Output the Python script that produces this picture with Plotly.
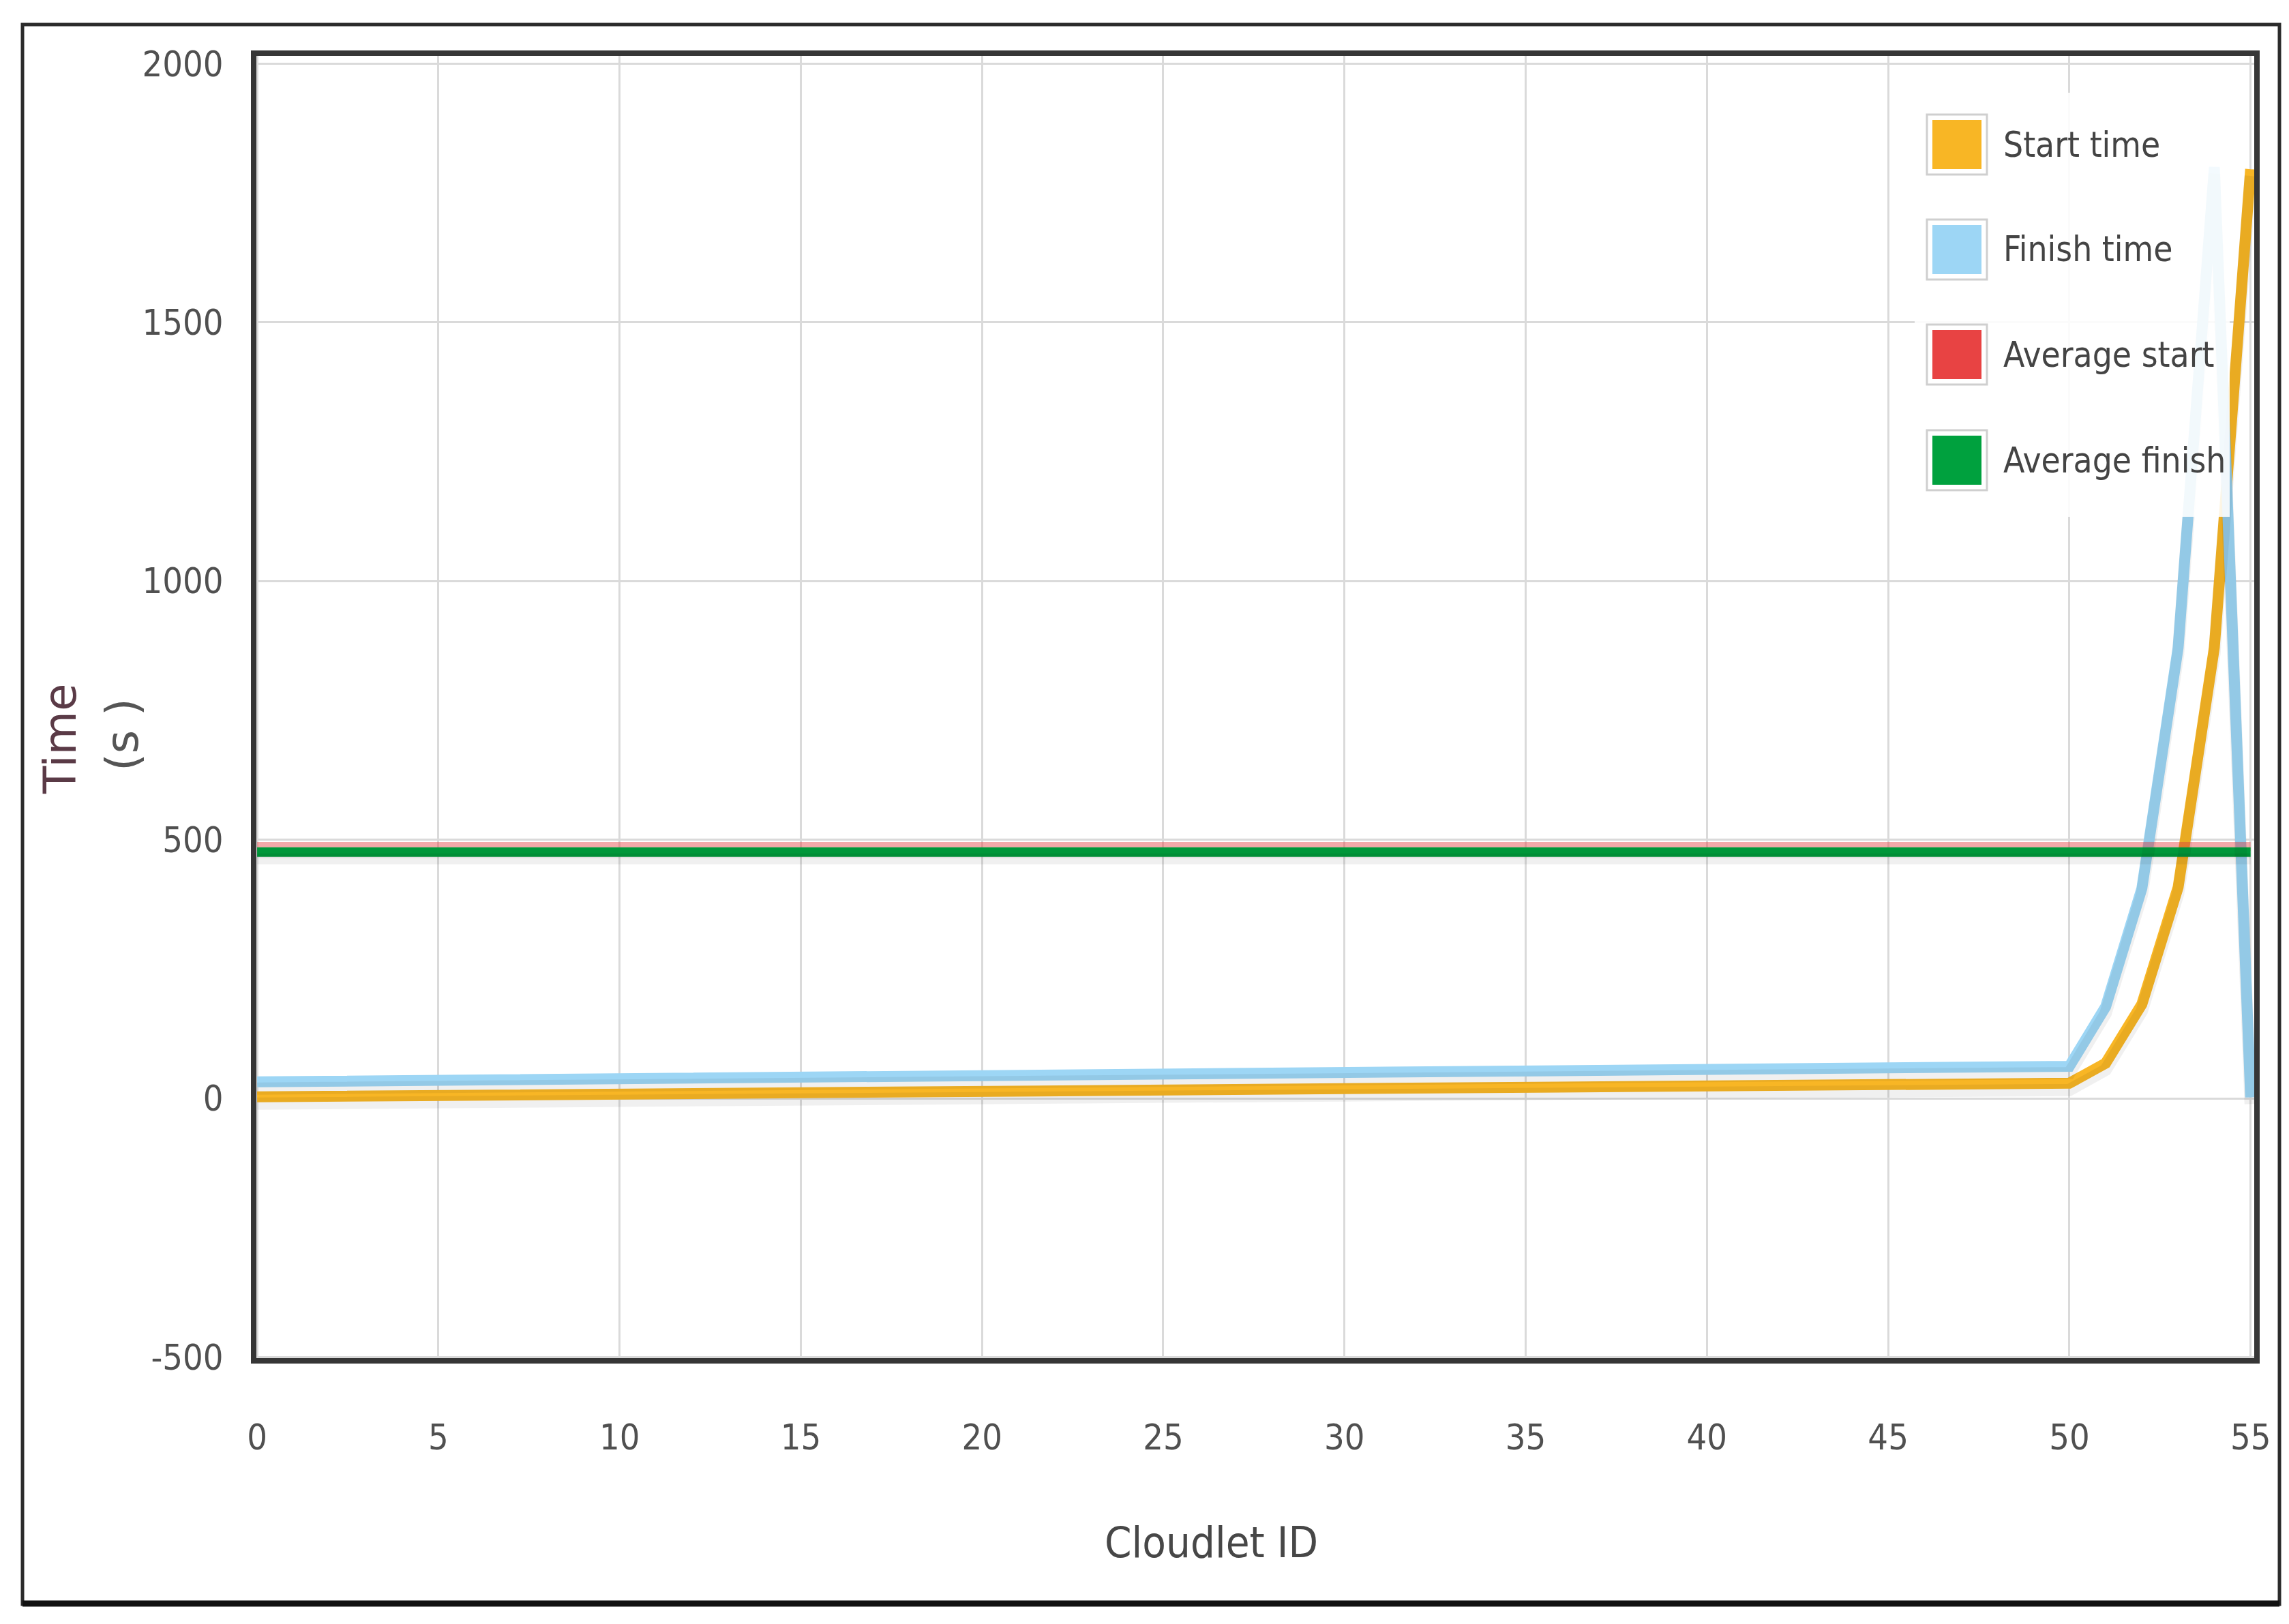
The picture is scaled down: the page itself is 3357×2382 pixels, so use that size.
import plotly.graph_objects as go

# ---------------- data ----------------
cloudlet_ids = list(range(56))
start_time = [3.0, 3.5, 4.0, 4.6, 5.1, 5.6, 6.1, 6.7, 7.2, 7.7,
              8.3, 8.8, 9.3, 9.8, 10.4, 10.9, 11.4, 11.9, 12.5, 13.0,
              13.5, 14.1, 14.6, 15.1, 15.6, 16.2, 16.7, 17.2, 17.7, 18.3,
              18.8, 19.3, 19.9, 20.4, 20.9, 21.4, 22.0, 22.5, 23.0, 23.5,
              24.1, 24.6, 25.1, 25.7, 26.2, 26.7, 27.2, 27.8, 28.3, 28.8,
              29.3, 68.0, 182.0, 408.0, 872.0, 1796.0]
finish_time = [32.0, 32.6, 33.2, 33.8, 34.4, 35.0, 35.6, 36.2, 36.8, 37.4,
               38.0, 38.6, 39.2, 39.8, 40.4, 41.0, 41.6, 42.2, 42.8, 43.4,
               44.0, 44.6, 45.2, 45.8, 46.4, 47.0, 47.6, 48.2, 48.8, 49.4,
               50.0, 50.6, 51.2, 51.8, 52.4, 53.0, 53.6, 54.2, 54.8, 55.4,
               56.0, 56.6, 57.2, 57.8, 58.4, 59.0, 59.6, 60.2, 60.8, 61.4,
               62.0, 177.0, 406.0, 871.0, 1800.0, 2.0]
average_x = [0, 55]
average_start = [487, 487]
average_finish = [476, 476]

x_tick_vals = [0, 5, 10, 15, 20, 25, 30, 35, 40, 45, 50, 55]
y_tick_vals = [-500, 0, 500, 1000, 1500, 2000]
y_tick_text = ["-500", "0", "500", "1000", "1500", "2000"]

series_names = ["Start time", "Finish time", "Average start", "Average finish"]
series_colors = ["#F8B625", "#9DD6F5", "#E84343", "#00A13E"]

# ---------------- layout geometry (pixels) ----------------
W, H = 3357, 2382
L, R, T, B = 368, 3298, 74, 1984


def pxx(p):
    return (p - L) / (R - L)


def pxy(p):
    return (B - p) / (B - T)


MAIN_FONT = "DejaVu Sans Condensed, DejaVu Sans, sans-serif"

fig = go.Figure()

series = [
    (cloudlet_ids, start_time, 16, 1.0),
    (cloudlet_ids, finish_time, 16, 1.0),
    (average_x, average_start, 13, 0.45),
    (average_x, average_finish, 14, 1.0),
]

# soft drop shadows (same data drawn on a slightly shifted hidden axis)
for xs, ys, w, op in series:
    fig.add_trace(go.Scatter(x=xs, y=ys, mode="lines", yaxis="y2",
                             line=dict(color="rgba(0,0,0,0.06)", width=w + 2),
                             hoverinfo="skip", showlegend=False))

for (xs, ys, w, op), name, col in zip(series, series_names, series_colors):
    fig.add_trace(go.Scatter(x=xs, y=ys, mode="lines", name=name,
                             line=dict(color=col, width=w), opacity=op,
                             showlegend=False))

shapes = []
annotations = []

# legend panel (semi-transparent white over the plot)
shapes.append(dict(type="rect", xref="paper", yref="paper",
                   x0=pxx(2800), x1=pxx(3262), y0=pxy(750), y1=pxy(128),
                   fillcolor="rgba(255,255,255,0.88)", line=dict(width=0),
                   layer="above"))
row_centers = [204, 358, 512, 667]
for yc, name, col in zip(row_centers, series_names, series_colors):
    shapes.append(dict(type="rect", xref="paper", yref="paper",
                       x0=pxx(2818), x1=pxx(2906), y0=pxy(yc + 44), y1=pxy(yc - 44),
                       fillcolor="white", line=dict(color="#cfcfcf", width=3),
                       layer="above"))
    shapes.append(dict(type="rect", xref="paper", yref="paper",
                       x0=pxx(2826), x1=pxx(2898), y0=pxy(yc + 36), y1=pxy(yc - 36),
                       fillcolor=col, line=dict(width=0), layer="above"))
    annotations.append(dict(text=name, xref="paper", yref="paper",
                            x=pxx(2928), y=pxy(yc), xanchor="left", yanchor="middle",
                            showarrow=False,
                            font=dict(family=MAIN_FONT, size=51, color="#444444")))

# axis titles
annotations.append(dict(text="Cloudlet ID", xref="paper", yref="paper",
                        x=pxx(1768), y=pxy(2254), xanchor="center", yanchor="middle",
                        showarrow=False,
                        font=dict(family=MAIN_FONT, size=63, color="#474747")))
annotations.append(dict(text="Time", xref="paper", yref="paper",
                        x=pxx(80), y=pxy(1076), textangle=-90,
                        xanchor="center", yanchor="middle", showarrow=False,
                        font=dict(family="DejaVu Sans", size=66, color="#5a3a46")))
annotations.append(dict(text="(s )", xref="paper", yref="paper",
                        x=pxx(171), y=pxy(1070), textangle=-90,
                        xanchor="center", yanchor="middle", showarrow=False,
                        font=dict(family="DejaVu Sans", size=66, color="#555555")))

# outer frame of the image
shapes.append(dict(type="rect", xref="paper", yref="paper",
                   x0=pxx(25), x1=pxx(3335), y0=pxy(2345), y1=pxy(28),
                   line=dict(color="#2b2b2b", width=5), fillcolor="rgba(0,0,0,0)"))
shapes.append(dict(type="line", xref="paper", yref="paper",
                   x0=pxx(25), x1=pxx(3335), y0=pxy(2344), y1=pxy(2344),
                   line=dict(color="#111111", width=9)))

fig.update_layout(
    width=W, height=H,
    margin=dict(l=L, r=W - R, t=T, b=H - B, pad=0),
    paper_bgcolor="white", plot_bgcolor="white",
    font=dict(family=MAIN_FONT, color="#505050"),
    showlegend=False,
    xaxis=dict(range=[-0.02, 55.1], tickvals=x_tick_vals,
               showgrid=True, gridcolor="#dadada", gridwidth=3,
               zeroline=False, showline=True, mirror=True,
               linecolor="#363636", linewidth=8, ticks="",
               ticklabelstandoff=64,
               tickfont=dict(family=MAIN_FONT, size=52, color="#505050")),
    yaxis=dict(range=[-502, 2015], tickvals=y_tick_vals, ticktext=y_tick_text,
               showgrid=True, gridcolor="#dadada", gridwidth=3,
               zeroline=False, showline=True, mirror=True,
               linecolor="#363636", linewidth=8, ticks="",
               ticklabelstandoff=30,
               tickfont=dict(family=MAIN_FONT, size=52, color="#505050")),
    yaxis2=dict(range=[-502 + 13, 2015 + 13], overlaying="y", visible=False,
                showgrid=False, zeroline=False),
    shapes=shapes,
    annotations=annotations,
)

fig.write_html("out.html")
